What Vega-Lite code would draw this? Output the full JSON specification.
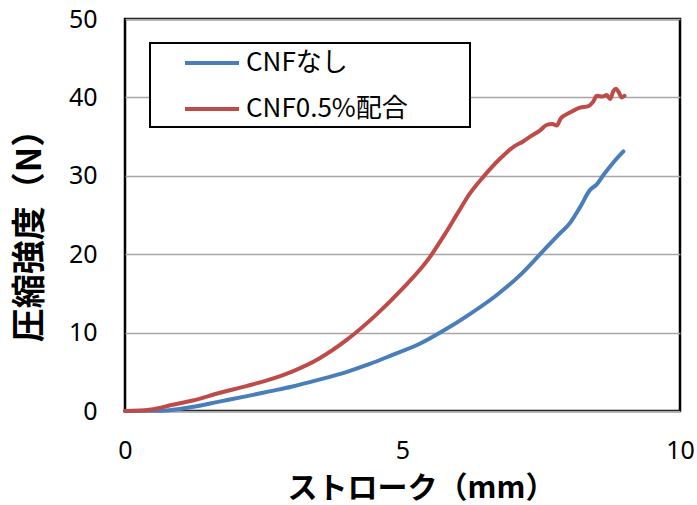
{
  "$schema": "https://vega.github.io/schema/vega-lite/v6.json",
  "autosize": {"type": "none"},
  "padding": {"left": 125, "top": 19, "right": 17, "bottom": 94},
  "width": 555,
  "height": 392,
  "background": "white",
  "config": {
    "view": {"stroke": "black", "strokeWidth": 2.5},
    "axis": {
      "domain": false,
      "ticks": false,
      "grid": true,
      "gridColor": "#a6a6a6",
      "gridWidth": 1.5,
      "labelFont": "Noto Sans",
      "labelFontSize": 25,
      "labelColor": "black",
      "titleFont": "Noto Sans CJK JP",
      "titleFontWeight": "bold",
      "titleColor": "black"
    }
  },
  "data": {
    "values": [
      {"series": "CNFなし", "x": 0, "y": 0},
      {"series": "CNFなし", "x": 0.5, "y": 0.02},
      {"series": "CNFなし", "x": 0.8, "y": 0.1},
      {"series": "CNFなし", "x": 1.2, "y": 0.5},
      {"series": "CNFなし", "x": 1.7, "y": 1.2},
      {"series": "CNFなし", "x": 2.2, "y": 1.9},
      {"series": "CNFなし", "x": 2.6, "y": 2.5},
      {"series": "CNFなし", "x": 3.0, "y": 3.1},
      {"series": "CNFなし", "x": 3.5, "y": 4.0},
      {"series": "CNFなし", "x": 4.0, "y": 5.0},
      {"series": "CNFなし", "x": 4.41, "y": 6.0},
      {"series": "CNFなし", "x": 4.8, "y": 7.1},
      {"series": "CNFなし", "x": 5.32, "y": 8.6},
      {"series": "CNFなし", "x": 5.68, "y": 10.0},
      {"series": "CNFなし", "x": 6.2, "y": 12.3},
      {"series": "CNFなし", "x": 6.7, "y": 14.8},
      {"series": "CNFなし", "x": 7.1, "y": 17.2},
      {"series": "CNFなし", "x": 7.48, "y": 20.0},
      {"series": "CNFなし", "x": 7.8, "y": 22.4},
      {"series": "CNFなし", "x": 8.02, "y": 24.0},
      {"series": "CNFなし", "x": 8.2, "y": 26.0},
      {"series": "CNFなし", "x": 8.38, "y": 28.2},
      {"series": "CNFなし", "x": 8.5, "y": 28.9},
      {"series": "CNFなし", "x": 8.62, "y": 30.1},
      {"series": "CNFなし", "x": 8.8, "y": 31.7},
      {"series": "CNFなし", "x": 8.98, "y": 33.1},
      {"series": "CNF0.5%配合", "x": 0, "y": 0},
      {"series": "CNF0.5%配合", "x": 0.3, "y": 0.05},
      {"series": "CNF0.5%配合", "x": 0.6, "y": 0.35},
      {"series": "CNF0.5%配合", "x": 0.8, "y": 0.7},
      {"series": "CNF0.5%配合", "x": 1.2, "y": 1.3},
      {"series": "CNF0.5%配合", "x": 1.7, "y": 2.3},
      {"series": "CNF0.5%配合", "x": 2.2, "y": 3.2},
      {"series": "CNF0.5%配合", "x": 2.6, "y": 4.0},
      {"series": "CNF0.5%配合", "x": 3.0, "y": 5.0},
      {"series": "CNF0.5%配合", "x": 3.5, "y": 6.7},
      {"series": "CNF0.5%配合", "x": 4.0, "y": 9.1},
      {"series": "CNF0.5%配合", "x": 4.5, "y": 12.1},
      {"series": "CNF0.5%配合", "x": 5.0, "y": 15.6},
      {"series": "CNF0.5%配合", "x": 5.5, "y": 19.7},
      {"series": "CNF0.5%配合", "x": 5.75, "y": 22.4},
      {"series": "CNF0.5%配合", "x": 6.0, "y": 25.3},
      {"series": "CNF0.5%配合", "x": 6.2, "y": 27.6},
      {"series": "CNF0.5%配合", "x": 6.46, "y": 29.9},
      {"series": "CNF0.5%配合", "x": 6.76, "y": 32.2},
      {"series": "CNF0.5%配合", "x": 7.0, "y": 33.7},
      {"series": "CNF0.5%配合", "x": 7.18, "y": 34.4},
      {"series": "CNF0.5%配合", "x": 7.3, "y": 35.0},
      {"series": "CNF0.5%配合", "x": 7.48, "y": 35.8},
      {"series": "CNF0.5%配合", "x": 7.6, "y": 36.5},
      {"series": "CNF0.5%配合", "x": 7.7, "y": 36.6},
      {"series": "CNF0.5%配合", "x": 7.78, "y": 36.4},
      {"series": "CNF0.5%配合", "x": 7.85, "y": 37.3},
      {"series": "CNF0.5%配合", "x": 8.0, "y": 38.0},
      {"series": "CNF0.5%配合", "x": 8.2, "y": 38.7},
      {"series": "CNF0.5%配合", "x": 8.35, "y": 38.9},
      {"series": "CNF0.5%配合", "x": 8.44, "y": 39.5},
      {"series": "CNF0.5%配合", "x": 8.5, "y": 40.2},
      {"series": "CNF0.5%配合", "x": 8.6, "y": 40.1},
      {"series": "CNF0.5%配合", "x": 8.68, "y": 40.3},
      {"series": "CNF0.5%配合", "x": 8.74, "y": 39.8},
      {"series": "CNF0.5%配合", "x": 8.8, "y": 40.8},
      {"series": "CNF0.5%配合", "x": 8.85, "y": 41.1},
      {"series": "CNF0.5%配合", "x": 8.9, "y": 40.6},
      {"series": "CNF0.5%配合", "x": 8.95, "y": 40.0},
      {"series": "CNF0.5%配合", "x": 9.0, "y": 40.2}
    ]
  },
  "mark": {"type": "line", "strokeWidth": 4, "interpolate": "monotone", "strokeCap": "round"},
  "encoding": {
    "x": {
      "field": "x",
      "type": "quantitative",
      "scale": {"domain": [0, 10], "nice": false},
      "axis": {
        "values": [0, 5, 10],
        "grid": false,
        "labelPadding": 27,
        "labelFlush": false,
        "title": "ストローク（mm）",
        "titleFontSize": 30,
        "titleX": 296,
        "titleY": 77,
        "titleBaseline": "middle"
      }
    },
    "y": {
      "field": "y",
      "type": "quantitative",
      "scale": {"domain": [0, 50], "nice": false},
      "axis": {
        "values": [0, 10, 20, 30, 40, 50],
        "labelPadding": 28,
        "title": "圧縮強度（N）",
        "titleFontSize": 34,
        "titleX": -95,
        "titleY": 208,
        "titleAngle": -90,
        "titleBaseline": "middle",
        "titleAlign": "center"
      }
    },
    "color": {
      "field": "series",
      "type": "nominal",
      "scale": {"domain": ["CNFなし", "CNF0.5%配合"], "range": ["#4a7ebb", "#be4b48"]},
      "legend": {
        "title": null,
        "orient": "none",
        "legendX": 25,
        "legendY": 24,
        "symbolType": "M-2,0H2",
        "symbolSize": 729,
        "symbolStrokeWidth": 4,
        "symbolOffset": 42,
        "labelOffset": 18.5,
        "labelFont": "Noto Sans CJK JP",
        "labelFontSize": 26,
        "labelColor": "black",
        "labelLimit": 400,
        "labelExpr": "datum.label + '\u2800\u2800\u2800'",
        "rowPadding": 17,
        "padding": 4.5,
        "strokeColor": "black",
        "fillColor": "white",
        "encode": {
          "legend": {"update": {"strokeWidth": {"value": 2}}}
        }
      }
    }
  }
}
